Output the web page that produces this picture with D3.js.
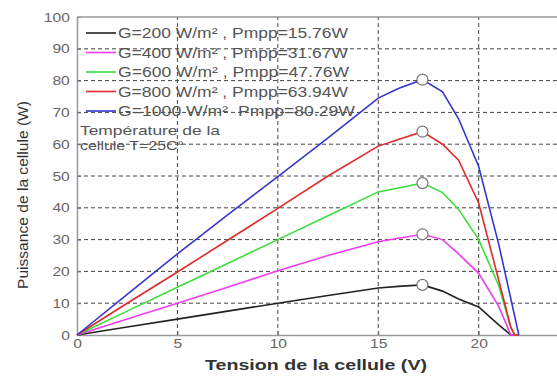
<!DOCTYPE html>
<html>
<head>
<meta charset="utf-8">
<script src="https://cdn.jsdelivr.net/npm/d3@7"></script>
<style>
  body { margin: 0; background: #fff; }
  svg { display: block; font-family: "Liberation Sans", Arial, sans-serif; }
</style>
</head>
<body>
<div id="chart"></div>
<script>
// tension (V) shared by every curve
const voltage = [0, 2.5, 5, 7.5, 10, 12.5, 15, 16, 17.2, 18.2, 19, 20, 21, 21.6, 21.8, 22];
const p200  = [0, 2.5, 5, 7.5, 10, 12.4, 14.8, 15.3, 15.76, 13.8, 11.3, 8.8, 3.2, 0, 0, 0];
const p400  = [0, 5, 10, 15, 20.2, 25, 29.3, 30.4, 31.67, 30, 25.5, 19.4, 9, 0, 0, 0];
const p600  = [0, 7.5, 15, 22.5, 30, 37.5, 45, 46.2, 47.76, 44.8, 39.5, 30, 15.5, 2.2, 0, 0];
const p800  = [0, 10, 19.8, 29.8, 39.8, 50, 59.4, 61.5, 63.94, 60, 55, 41.5, 17.2, 2.5, 0, 0];
const p1000 = [0, 12.8, 25.5, 37.8, 49.8, 62, 74.5, 77.5, 80.29, 76.5, 68, 53, 28.5, 11.4, 5.7, 0];

const seriesNames = ["G=200 W/m² , Pmpp=15.76W", "G=400 W/m² , Pmpp=31.67W", "G=600 W/m² , Pmpp=47.76W",
                     "G=800 W/m² , Pmpp=63.94W", "G=1000 W/m²  Pmpp=80.29W"];
const seriesColors = ["#222222", "#f03cf0", "#3ddc3d", "#e02a2a", "#3535d0"];
const seriesPower = [p200, p400, p600, p800, p1000];
const vmpp = [17.2, 17.2, 17.2, 17.2, 17.2];
const pmpp = [15.76, 31.67, 47.76, 63.94, 80.29];

const xTicks = [0, 5, 10, 15, 20];
const yTicks = [0, 10, 20, 30, 40, 50, 60, 70, 80, 90, 100];

const width = 557, height = 376;
const margin = {top: 17, left: 77, bottom: 41};

const svg = d3.select("#chart").append("svg")
    .attr("width", width)
    .attr("height", height);

const x = d3.scaleLinear().domain([0, 24]).range([margin.left, 559]);
const y = d3.scaleLinear().domain([0, 100]).range([height - margin.bottom, margin.top]);

// dashed grid
const grid = svg.append("g").attr("stroke", "#444").attr("stroke-width", 1)
    .attr("stroke-dasharray", "4,3");
grid.selectAll(".hg").data(yTicks.filter(d => d > 0 && d < 100)).join("line")
    .attr("x1", x(0)).attr("x2", x(24))
    .attr("y1", d => y(d)).attr("y2", d => y(d));
grid.selectAll(".vg").data(xTicks.filter(d => d > 0)).join("line")
    .attr("x1", d => x(d)).attr("x2", d => x(d))
    .attr("y1", y(0)).attr("y2", y(100));

// axes
const xAxis = svg.append("g")
    .attr("transform", `translate(0,${y(0)})`)
    .call(d3.axisBottom(x).tickValues(xTicks).tickSizeInner(-4).tickSizeOuter(0).tickPadding(4));
const yAxis = svg.append("g")
    .attr("transform", `translate(${x(0)},0)`)
    .call(d3.axisLeft(y).tickValues(yTicks).tickSizeInner(-4).tickSizeOuter(0).tickPadding(6));

[xAxis, yAxis].forEach(a => {
    a.select(".domain").attr("stroke", "#999").attr("stroke-width", 1.5);
    a.selectAll(".tick line").attr("stroke", "#777");
    a.selectAll(".tick text")
        .attr("fill", "#666")
        .style("font-size", "13px")
        .attr("transform", "scale(1.2,1)");
});

// top border
svg.append("line")
    .attr("x1", x(0)).attr("x2", x(24))
    .attr("y1", y(100)).attr("y2", y(100))
    .attr("stroke", "#999").attr("stroke-width", 1.5);

// curves
const line = d3.line()
    .x((d, i) => x(voltage[i]))
    .y(d => y(d));

svg.append("g").selectAll("path").data(seriesPower).join("path")
    .attr("fill", "none")
    .attr("stroke", (d, i) => seriesColors[i])
    .attr("stroke-width", 1.6)
    .attr("d", line);

// maximum power points
svg.append("g").selectAll("circle").data(pmpp).join("circle")
    .attr("cx", (d, i) => x(vmpp[i]))
    .attr("cy", d => y(d))
    .attr("r", 5.5)
    .attr("fill", "#fff")
    .attr("stroke", "#777")
    .attr("stroke-width", 1.2);

// legend
const legendY = [33, 52.5, 72, 91.5, 111];
const legendW = [230, 230, 231, 230, 237];
const legend = svg.append("g");
legend.selectAll("line").data(seriesNames).join("line")
    .attr("x1", 86).attr("x2", 116)
    .attr("y1", (d, i) => legendY[i]).attr("y2", (d, i) => legendY[i])
    .attr("stroke", (d, i) => seriesColors[i])
    .attr("stroke-width", 1.6);
legend.selectAll("text").data(seriesNames).join("text")
    .attr("x", 118)
    .attr("y", (d, i) => legendY[i] + 5)
    .attr("textLength", (d, i) => legendW[i])
    .attr("lengthAdjust", "spacingAndGlyphs")
    .attr("fill", "#555")
    .style("font-size", "14px")
    .style("white-space", "pre")
    .text(d => d);

// temperature note
const noteLines = ["Température de la", "cellule T=25C°"];
const noteW = [140, 104];
svg.append("g").selectAll("text").data(noteLines).join("text")
    .attr("x", 80)
    .attr("y", (d, i) => 135 + i * 15)
    .attr("textLength", (d, i) => noteW[i])
    .attr("lengthAdjust", "spacingAndGlyphs")
    .attr("fill", "#555")
    .style("font-size", "13px")
    .text(d => d);

// axis titles
svg.append("text")
    .attr("x", 316)
    .attr("y", 370)
    .attr("text-anchor", "middle")
    .attr("textLength", 222)
    .attr("lengthAdjust", "spacingAndGlyphs")
    .attr("fill", "#333")
    .style("font-size", "15px")
    .style("font-weight", "bold")
    .text("Tension de la cellule (V)");

svg.append("text")
    .attr("transform", `translate(28,195) rotate(-90)`)
    .attr("text-anchor", "middle")
    .attr("textLength", 188)
    .attr("lengthAdjust", "spacingAndGlyphs")
    .attr("fill", "#333")
    .style("font-size", "15px")
    .text("Puissance de la cellule (W)");
</script>
</body>
</html>
